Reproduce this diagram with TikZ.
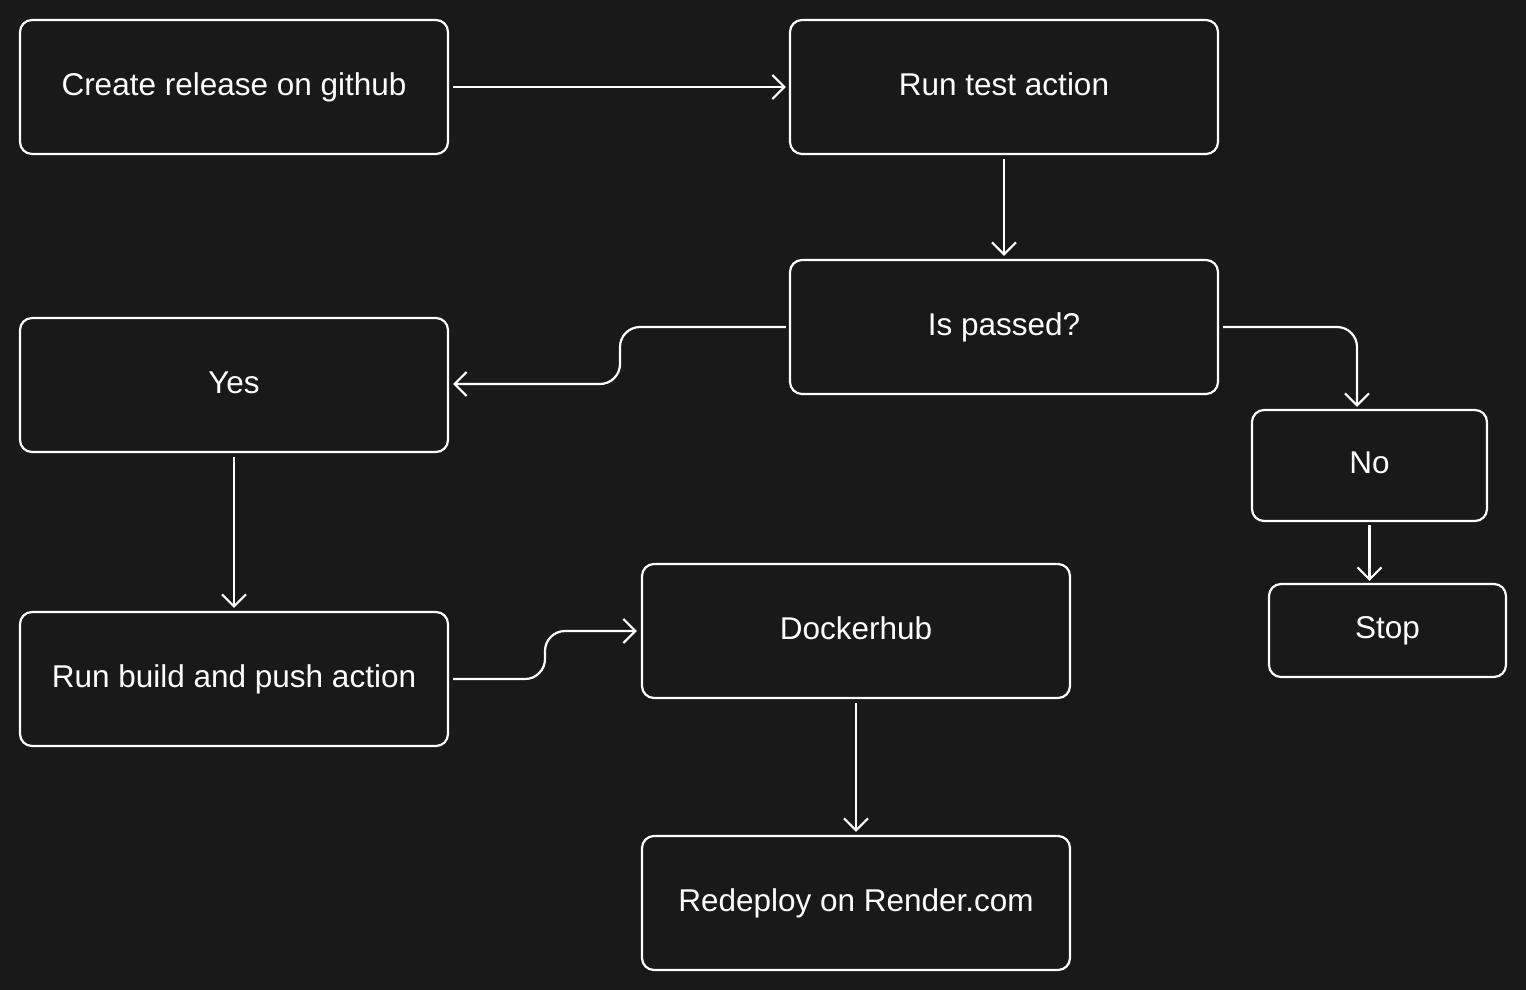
\documentclass[tikz,border=0pt]{standalone}
\usepackage{fontspec}
\setmainfont{Liberation Sans}
\usetikzlibrary{arrows.meta}
\definecolor{bg}{HTML}{191919}
\newcommand{\lbltxt}[1]{\raisebox{5pt}{#1}}
\tikzset{
  box/.style={draw=white, line width=2.2pt, rounded corners=12pt, text=white, font=\fontsize{31.5}{36}\selectfont, inner sep=0pt, anchor=center},
  wide/.style={box, minimum width=428pt, minimum height=134pt},
  conn/.style={draw=white, line width=2.2pt, -{Straight Barb[length=12pt,width=24pt,line width=2.2pt]}, rounded corners=20pt},
}
\begin{document}
\begin{tikzpicture}[x=1pt,y=-1pt]
\fill[bg] (0,0) rectangle (1526,990);
\useasboundingbox (0,0) rectangle (1526,990);
\node[wide] (a) at (234,87) {\lbltxt{Create release on github}};
\node[wide] (b) at (1004,87) {\lbltxt{Run test action}};
\node[wide] (c) at (1004,327) {\lbltxt{Is passed?}};
\node[wide] (d) at (234,385) {\lbltxt{Yes}};
\node[box, minimum width=235pt, minimum height=111pt] (e) at (1369.5,465.5) {\lbltxt{No}};
\node[box, minimum width=237pt, minimum height=93pt] (f) at (1387.5,630.5) {\lbltxt{Stop}};
\node[wide] (g) at (234,679) {\lbltxt{Run build and push action}};
\node[wide] (h) at (856,631) {\lbltxt{Dockerhub}};
\node[wide] (i) at (856,903) {\lbltxt{Redeploy on Render.com}};
\draw[conn] ([xshift=4pt]a.east) -- ([xshift=-3pt]b.west);
\draw[conn] ([yshift=-4pt]b.south) -- ([yshift=3pt]c.north);
\draw[conn] ([xshift=-3pt]c.west) -- (620,327) -- (620,384) -- ([xshift=4pt,yshift=1pt]d.east);
\draw[conn] ([xshift=4pt]c.east) -- (1357,327) -- ([xshift=-12.5pt,yshift=2pt]e.north);
\draw[conn] ([yshift=-4pt]d.south) -- ([yshift=3pt]g.north);
\draw[conn] ([yshift=-3pt]e.south) -- ([yshift=2pt]f.north-|e.south);
\draw[conn] ([xshift=4pt]g.east) -- (545,679) -- (545,631) -- ([xshift=-4pt]h.west);
\draw[conn] ([yshift=-4pt]h.south) -- ([yshift=3pt]i.north);
\end{tikzpicture}
\end{document}
